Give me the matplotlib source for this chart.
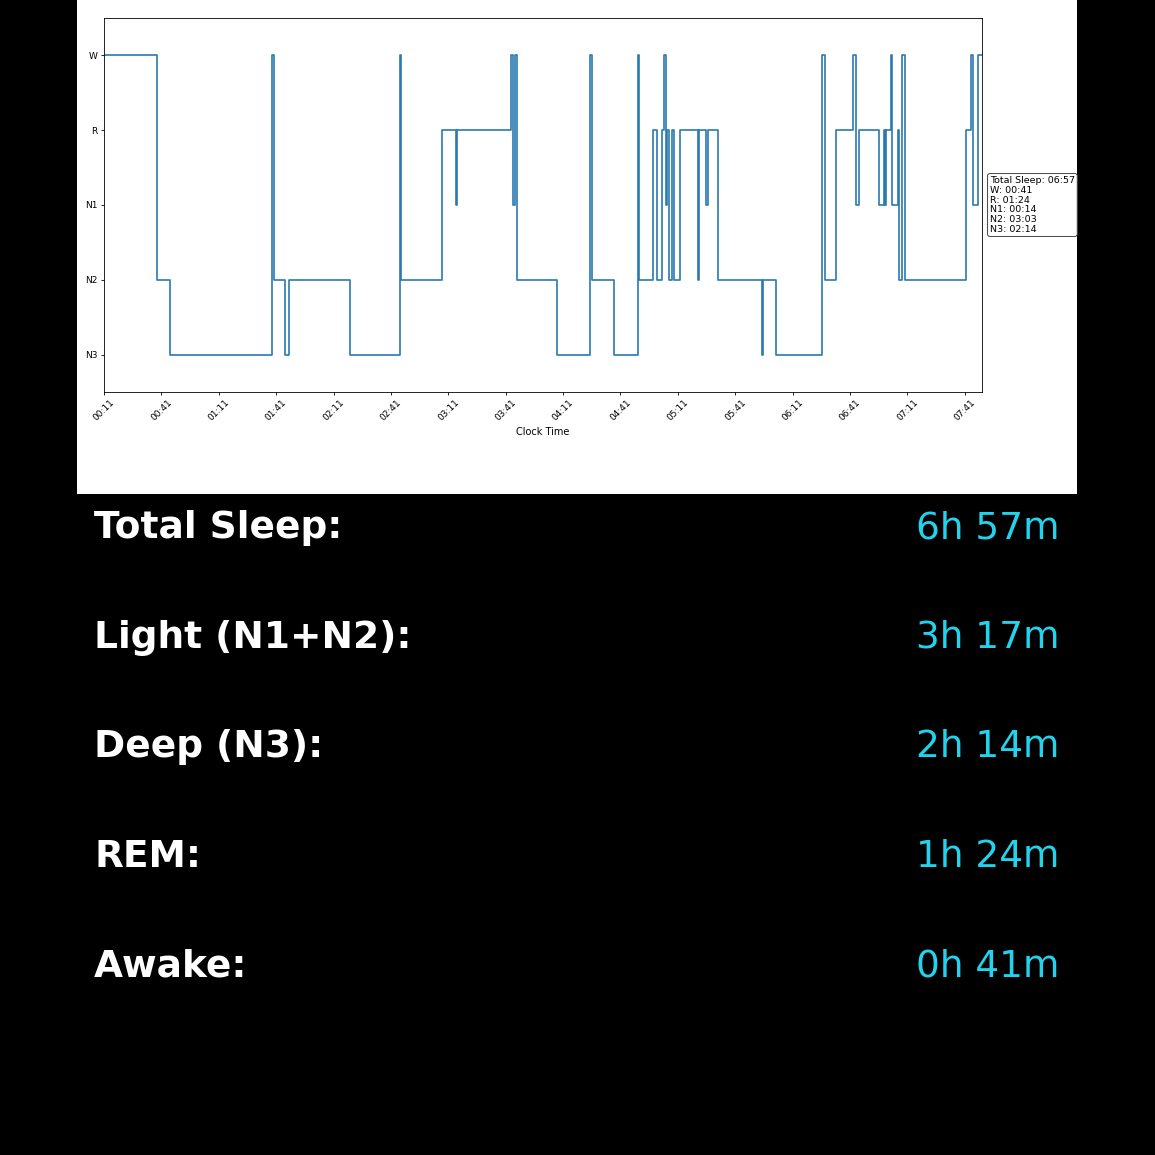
import numpy as np
import matplotlib
matplotlib.use("Agg")
import matplotlib.pyplot as plt

# hypnogram, onset of each stage in minutes after 00:11
onsets = [0, 27.5, 34.5, 88, 89, 94.5, 96.5, 128.5, 154.5, 155.5,
          176.5, 184, 184.5, 213, 214, 215, 216, 237, 254, 255,
          266.5, 279, 279.5, 287, 289, 291.5, 292.5, 294, 294.5, 295.5,
          297, 298, 301, 310.5, 311, 314.5, 316, 321, 344, 344.5,
          351.5, 375.5, 377, 382.5, 391.5, 393, 394.5, 405, 408, 408.5,
          409, 411.5, 412, 415, 415.5, 417, 419, 450.5, 453.5, 454.5,
          457]
stages = ['W', 'N2', 'N3', 'W', 'N2', 'N3', 'N2', 'N3', 'W', 'N2',
          'R', 'N1', 'R', 'W', 'N1', 'W', 'N2', 'N3', 'W', 'N2',
          'N3', 'W', 'N2', 'R', 'N2', 'R', 'W', 'N1', 'R', 'N2',
          'R', 'N2', 'R', 'N2', 'R', 'N1', 'R', 'N2', 'N3', 'N2',
          'N3', 'W', 'N2', 'R', 'W', 'N1', 'R', 'N1', 'R', 'N1',
          'R', 'W', 'N1', 'R', 'N2', 'W', 'N2', 'R', 'W', 'N1',
          'W']
end_min = 459

stage_order = ['N3', 'N2', 'N1', 'R', 'W']
tick_mins = list(range(0, 451, 30))
tick_labels = ['00:11', '00:41', '01:11', '01:41', '02:11', '02:41', '03:11', '03:41',
               '04:11', '04:41', '05:11', '05:41', '06:11', '06:41', '07:11', '07:41']

stats_text = "Total Sleep: 06:57\nW: 00:41\nR: 01:24\nN1: 00:14\nN2: 03:03\nN3: 02:14"

summary_names = ['Total Sleep:', 'Light (N1+N2):', 'Deep (N3):', 'REM:', 'Awake:']
summary_values = ['6h 57m', '3h 17m', '2h 14m', '1h 24m', '0h 41m']

W_PX = 1155
fig = plt.figure(figsize=(11.55, 11.55), dpi=100, facecolor='black')

# white panel holding the chart
panel = fig.add_axes([77 / W_PX, 1 - 494 / W_PX, 1000 / W_PX, 494 / W_PX])
panel.set_facecolor('white')
panel.set_xticks([])
panel.set_yticks([])
for s in panel.spines.values():
    s.set_visible(False)

ax = fig.add_axes([104 / W_PX, 1 - 392 / W_PX, 878 / W_PX, 374 / W_PX])
x = onsets + [end_min]
y = [stage_order.index(s) for s in stages]
y = y + [y[-1]]
ax.step(x, y, where='post', color='#2a7ab0', lw=1.2)
ax.set_xlim(0, end_min)
ax.set_ylim(-0.5, 4.5)
ax.set_yticks(range(len(stage_order)))
ax.set_yticklabels(stage_order, fontsize=6.5)
ax.set_xticks(tick_mins)
ax.set_xticklabels(tick_labels, fontsize=6.5, rotation=45)
ax.set_xlabel('Clock Time', fontsize=7, labelpad=3)
ax.tick_params(length=2.5, width=0.6, pad=2)
for s in ax.spines.values():
    s.set_linewidth(0.6)

ax.text(1.009, 0.5, stats_text, transform=ax.transAxes, fontsize=6.8,
        va='center', ha='left', linespacing=1.12,
        bbox=dict(boxstyle='round,pad=0.25', facecolor='white', edgecolor='#444444', lw=0.7))

# summary rows below the chart
for i, (name, val) in enumerate(zip(summary_names, summary_values)):
    yb = 538 + i * 109.7
    fig.text(94 / W_PX, 1 - yb / W_PX, name, fontsize=27, fontweight='bold',
             color='white', ha='left', va='baseline')
    fig.text(1059 / W_PX, 1 - yb / W_PX, val, fontsize=27,
             color='#22d3ee', ha='right', va='baseline')

fig.savefig('out.png', dpi=100, facecolor='black')
